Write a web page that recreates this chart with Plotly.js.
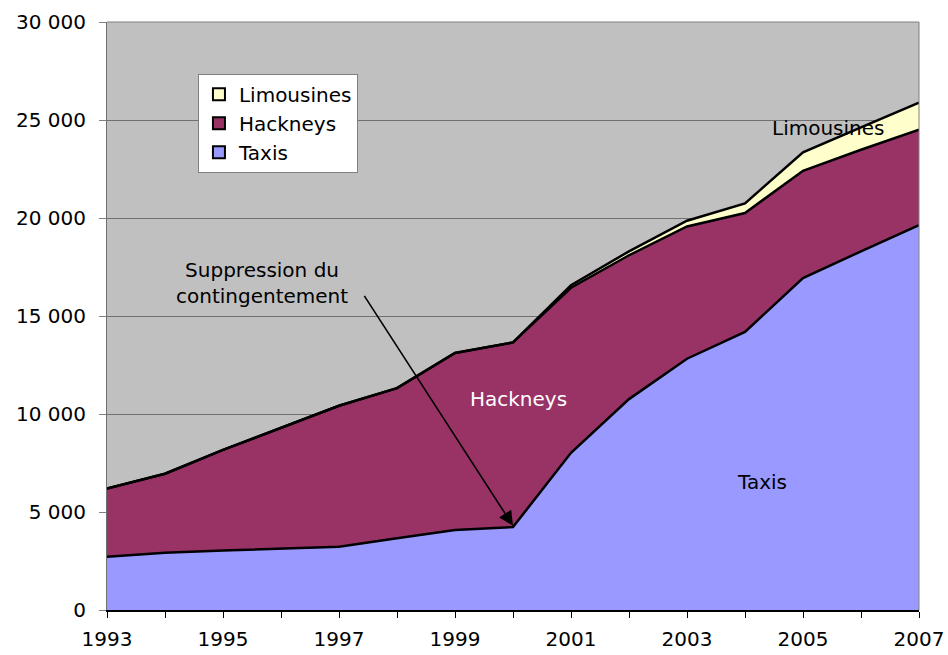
<!DOCTYPE html>
<html>
<head>
<meta charset="utf-8">
<script src="https://cdn.plot.ly/plotly-3.0.1.min.js"></script>
<style>html,body{margin:0;padding:0;background:#fff;}#chart{width:948px;height:655px;}</style>
</head>
<body>
<div id="chart"></div>
<script>
const years = [1993,1994,1995,1996,1997,1998,1999,2000,2001,2002,2003,2004,2005,2006,2007];
const taxis = [2720,2920,3030,3130,3230,3660,4085,4230,8020,10760,12820,14190,16930,18300,19630];
const hackneys = [3480,4030,5140,6150,7190,7660,9025,9420,8420,7340,6750,6065,5480,5180,4870];
const limousines = [0,0,0,0,0,0,0,0,130,200,290,490,940,1140,1390];
const seriesNames = ['Taxis','Hackneys','Limousines'];
const seriesColors = ['#9999FF','#993366','#FFFFCC'];
const xTickVals = years;
const xTickText = ['1993','','1995','','1997','','1999','','2001','','2003','','2005','','2007'];
const yTickVals = [0,5000,10000,15000,20000,25000,30000];
const yTickText = ['0','5 000','10 000','15 000','20 000','25 000','30 000'];

const font = 'Verdana, "DejaVu Sans", sans-serif';
const FS = 20;
const lineStyle = {color:'#000000', width:2.5};
const values = [taxis, hackneys, limousines];

const traces = [];
values.forEach((v,i)=>{
  traces.push({name:seriesNames[i], x:years, y:v, stackgroup:'one', mode:'lines', line:lineStyle,
               fillcolor:seriesColors[i], showlegend:false});
});
// legend entries with square symbols
values.forEach((v,i)=>{
  traces.push({name:seriesNames[i], x:[null], y:[null], mode:'markers', type:'scatter',
               marker:{symbol:'square', size:13, color:seriesColors[i], line:{color:'#000', width:1.5}},
               showlegend:true});
});

const layout = {
  width:948, height:655,
  margin:{l:107, r:29, t:22, b:45},
  paper_bgcolor:'#ffffff',
  plot_bgcolor:'#C0C0C0',
  font:{family:font, size:FS, color:'#000000'},
  showlegend:true,
  legend:{x:0.112, y:0.912, xanchor:'left', yanchor:'top', bgcolor:'#ffffff', bordercolor:'#808080', borderwidth:1,
          traceorder:'reversed', font:{family:font, size:FS, color:'#000'}, itemwidth:30, tracegroupgap:0,
          itemsizing:'constant'},
  xaxis:{range:[1993,2007], tickvals:xTickVals, ticktext:xTickText, ticks:'outside', ticklen:6, tickcolor:'#000',
         showgrid:false, zeroline:false, showline:true, linecolor:'#000', linewidth:2, mirror:false,
         tickfont:{family:font, size:FS}, ticklabelstandoff:4, fixedrange:true},
  yaxis:{range:[0,30000], tickvals:yTickVals, ticktext:yTickText, ticks:'outside', ticklen:7, tickcolor:'#808080',
         showgrid:true, gridcolor:'#707070', gridwidth:1, zeroline:false, showline:true, linecolor:'#707070', linewidth:1,
         tickfont:{family:font, size:FS}, ticklabelstandoff:9, fixedrange:true},
  shapes:[
    {type:'line', xref:'paper', yref:'paper', x0:0, x1:1, y0:1, y1:1, line:{color:'#808080', width:1}},
    {type:'line', xref:'paper', yref:'paper', x0:1, x1:1, y0:0, y1:1, line:{color:'#808080', width:1}}
  ],
  annotations:[
    {x:2000, y:4300, xref:'x', yref:'y', ax:1997.42, ay:16100, axref:'x', ayref:'y', showarrow:true,
     arrowhead:2, arrowsize:1.8, arrowwidth:1.6, arrowcolor:'#000', text:''},
    {x:1995.67, y:16700, xref:'x', yref:'y', text:'Suppression du<br>contingentement', showarrow:false,
     font:{family:font, size:FS, color:'#000'}, align:'center'},
    {x:2000.1, y:10780, xref:'x', yref:'y', text:'Hackneys', showarrow:false, font:{family:font, size:FS, color:'#ffffff'}},
    {x:2004.3, y:6540, xref:'x', yref:'y', text:'Taxis', showarrow:false, font:{family:font, size:FS, color:'#000'}},
    {x:2005.43, y:24570, xref:'x', yref:'y', text:'Limousines', showarrow:false, font:{family:font, size:FS, color:'#000'}}
  ]
};

Plotly.newPlot('chart', traces, layout, {displayModeBar:false, staticPlot:true});
</script>
</body>
</html>
